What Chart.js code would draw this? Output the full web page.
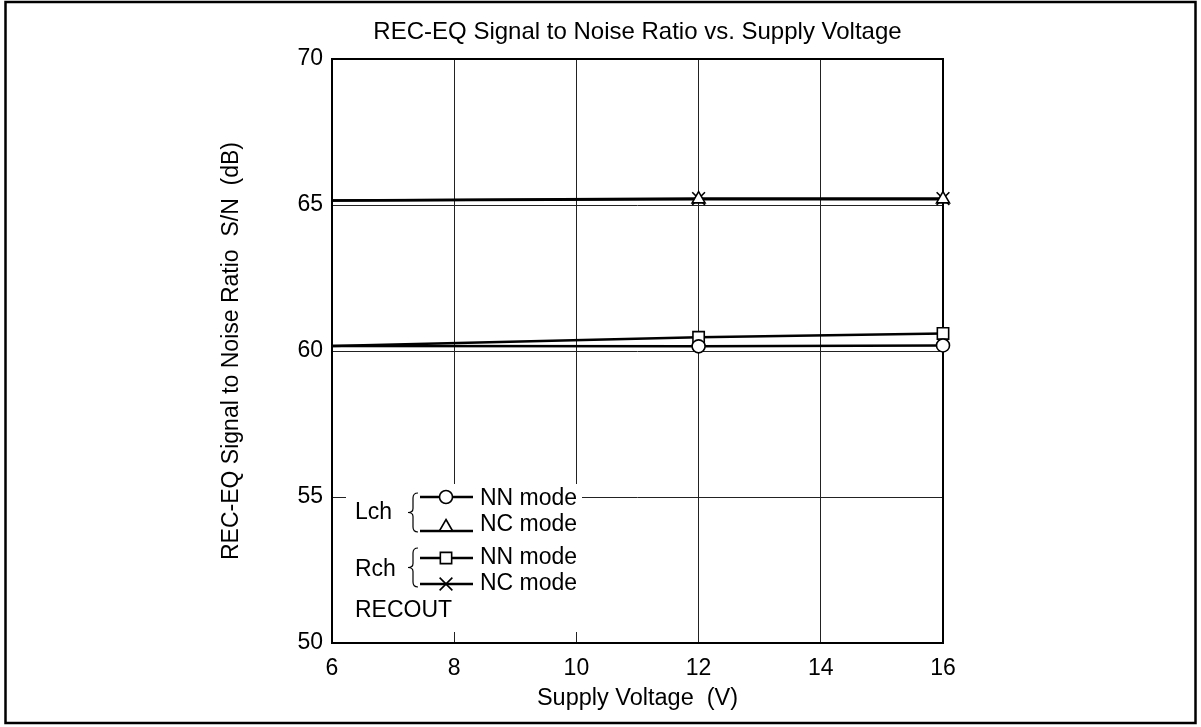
<!DOCTYPE html>
<html>
<head>
<meta charset="utf-8">
<script src="https://cdn.jsdelivr.net/npm/chart.js@4.4.1/dist/chart.umd.min.js"></script>
<style>
  body { margin: 0; background: #fff; }
  #wrap { width: 1201px; height: 727px; }
</style>
</head>
<body>
<div id="wrap"><canvas id="snChart"></canvas></div>
<script>
// values
const voltage = [6, 12, 16];
const lchNN = [60.17, 60.16, 60.19];
const lchNC = [65.15, 65.2, 65.2];
const rchNN = [60.17, 60.47, 60.6];
const rchNC = [65.15, 65.22, 65.22];
const showMarker = [false, true, true]; // no marker drawn at 6 V

const xTickValues = [6, 8, 10, 12, 14, 16];
const yTickValues = [50, 55, 60, 65, 70];

const chartTitle = 'REC-EQ Signal to Noise Ratio vs. Supply Voltage';

const FONT = '"Liberation Sans", Arial, sans-serif';
const MARKER_SIZE = { circle: 6.5, triangle: 7.5, rect: 8, crossRot: 9 };

function series(values) {
    return values.map((v, i) => ({ x: voltage[i], y: v }));
}

function makeDataset(label, values, style) {
    return {
        label: label,
        data: series(values),
        borderColor: '#000',
        borderWidth: 2.5,
        pointStyle: style,
        pointRadius: showMarker.map(s => s ? MARKER_SIZE[style] : 0),
        pointBackgroundColor: '#fff',
        pointBorderColor: '#000',
        pointBorderWidth: 1.6,
        tension: 0,
        clip: false
    };
}

// white page, outer frame, plot frame and the title centred over the plot
const framePlugin = {
    id: 'frames',
    beforeDraw(chart) {
        const ctx = chart.ctx;
        ctx.save();
        ctx.fillStyle = '#fff';
        ctx.fillRect(0, 0, chart.width, chart.height);
        ctx.restore();
    },
    beforeDatasetsDraw(chart) {
        const { ctx, chartArea: a } = chart;
        ctx.save();
        ctx.strokeStyle = '#000';
        ctx.lineWidth = 2;
        ctx.strokeRect(a.left, a.top, a.right - a.left, a.bottom - a.top);
        ctx.restore();
    },
    afterDraw(chart) {
        const { ctx, chartArea: a } = chart;
        ctx.save();
        ctx.strokeStyle = '#000';
        ctx.lineWidth = 2.5;
        ctx.strokeRect(5.5, 2, chart.width - 11, chart.height - 6);

        ctx.fillStyle = '#000';
        ctx.font = '24px ' + FONT;
        ctx.textAlign = 'center';
        ctx.textBaseline = 'middle';
        ctx.fillText(chartTitle, (a.left + a.right) / 2, 32);
        ctx.restore();
    }
};

function drawBrace(ctx, x, y1, y2) {
    const xm = x - 5, xl = x - 10, ym = (y1 + y2) / 2;
    ctx.beginPath();
    ctx.moveTo(x, y1);
    ctx.quadraticCurveTo(xm, y1, xm, y1 + 5);
    ctx.lineTo(xm, ym - 4);
    ctx.quadraticCurveTo(xm, ym, xl, ym);
    ctx.quadraticCurveTo(xm, ym, xm, ym + 4);
    ctx.lineTo(xm, y2 - 5);
    ctx.quadraticCurveTo(xm, y2, x, y2);
    ctx.stroke();
}

// the boxed legend in the lower left corner
const legendPlugin = {
    id: 'chLegend',
    afterDatasetsDraw(chart) {
        const ctx = chart.ctx;
        const rows = [
            { y: 497, my: 497, ty: 499, style: 'circle', text: 'NN mode' },
            { y: 531, my: 527, ty: 525, style: 'triangle', text: 'NC mode' },
            { y: 558, my: 558, ty: 558, style: 'rect', text: 'NN mode' },
            { y: 584, my: 584, ty: 584, style: 'crossRot', text: 'NC mode' }
        ];
        ctx.save();
        ctx.fillStyle = '#fff';
        ctx.fillRect(346, 484, 236, 148);

        ctx.fillStyle = '#000';
        ctx.font = '23px ' + FONT;
        ctx.textBaseline = 'middle';
        ctx.textAlign = 'left';
        ctx.fillText('Lch', 355, 513);
        ctx.fillText('Rch', 355, 570);
        ctx.fillText('RECOUT', 355, 611);

        ctx.strokeStyle = '#000';
        ctx.lineWidth = 1.2;
        drawBrace(ctx, 418, 493, 532);
        drawBrace(ctx, 418, 548, 587);

        rows.forEach(r => {
            ctx.lineWidth = 2.5;
            ctx.beginPath();
            ctx.moveTo(420, r.y);
            ctx.lineTo(473, r.y);
            ctx.stroke();
            ctx.fillStyle = '#fff';
            ctx.lineWidth = 1.6;
            Chart.helpers.drawPoint(ctx, { pointStyle: r.style, radius: MARKER_SIZE[r.style], rotation: 0, borderWidth: 1.6 }, 446, r.my);
            ctx.fillStyle = '#000';
            ctx.fillText(r.text, 480, r.ty);
        });
        ctx.restore();
    }
};

new Chart(document.getElementById('snChart'), {
    type: 'line',
    data: {
        datasets: [
            makeDataset('Lch NN mode', lchNN, 'circle'),
            makeDataset('Lch NC mode', lchNC, 'triangle'),
            makeDataset('Rch NN mode', rchNN, 'rect'),
            makeDataset('Rch NC mode', rchNC, 'crossRot')
        ]
    },
    options: {
        responsive: true,
        maintainAspectRatio: false,
        animation: false,
        layout: { padding: { left: 214, right: 258, top: 59, bottom: 10 } },
        plugins: {
            legend: { display: false },
            tooltip: { enabled: false },
            title: { display: false }
        },
        scales: {
            x: {
                type: 'linear',
                min: 6,
                max: 16,
                afterBuildTicks: s => { s.ticks = xTickValues.map(v => ({ value: v })); },
                afterFit: s => { s.height = 74; },
                ticks: { color: '#000', font: { family: FONT, size: 23 }, padding: 12 },
                grid: { color: '#222', lineWidth: 1, drawTicks: false },
                border: { display: false },
                title: {
                    display: true,
                    text: 'Supply Voltage  (V)',
                    color: '#000',
                    font: { family: FONT, size: 23.5 },
                    padding: { top: 2, bottom: 4 }
                }
            },
            y: {
                min: 50,
                max: 70,
                afterBuildTicks: s => { s.ticks = yTickValues.map(v => ({ value: v })); },
                afterFit: s => { s.width = 118; },
                ticks: { color: '#000', font: { family: FONT, size: 23 }, padding: 9 },
                grid: { color: '#222', lineWidth: 1, drawTicks: false },
                border: { display: false },
                title: {
                    display: true,
                    text: 'REC-EQ Signal to Noise Ratio  S/N  (dB)',
                    color: '#000',
                    font: { family: FONT, size: 23 },
                    padding: { top: 4, bottom: 4 }
                }
            }
        }
    },
    plugins: [framePlugin, legendPlugin]
});
</script>
</body>
</html>
